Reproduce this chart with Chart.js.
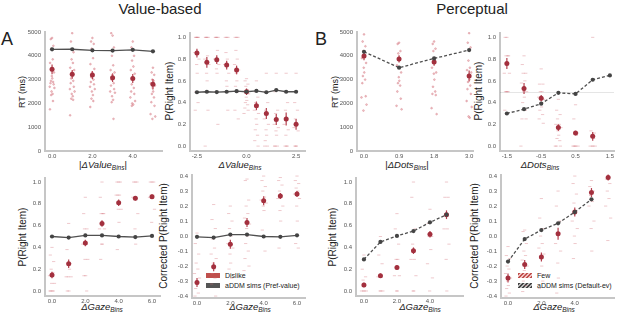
<!DOCTYPE html>
<html>
<head>
<meta charset="utf-8">
<script src="https://cdn.jsdelivr.net/npm/chart.js@4.4.0/dist/chart.umd.min.js"></script>
<style>
  body { margin: 0; width: 617px; height: 313px; background: #fff; position: relative; overflow: hidden;
         font-family: "Liberation Sans", Arial, sans-serif; color: #222; }
  canvas { position: absolute; }
  .tx { position: absolute; white-space: nowrap; line-height: 1; }
  .ttl { font-size: 15px; transform: translateX(-50%); }
  .let { font-size: 18px; }
  .yl { font-size: 10px; transform: translate(-50%, -50%) rotate(-90deg); }
  .yl.rt { font-size: 9px; }
  .xl { font-size: 9.5px; transform: translate(-50%, -50%); }
  .xl i { font-style: italic; }
  .xl sub { font-size: 6.5px; font-style: italic; vertical-align: -2px; }
  .lg { position: absolute; font-size: 7px; white-space: nowrap; line-height: 1; }
  .sw { display: inline-block; width: 14px; height: 5px; margin-right: 5px; vertical-align: 0px; }
</style>
</head>
<body>

<div class="tx ttl" style="left:160px;top:1px">Value-based</div>
<div class="tx ttl" style="left:472px;top:1px">Perceptual</div>
<div class="tx let" style="left:1px;top:30px">A</div>
<div class="tx let" style="left:315px;top:30px">B</div>

<div class="tx yl rt" style="left:22px;top:92px">RT (ms)</div>
<div class="tx yl" style="left:170px;top:91px">P(Right Item)</div>
<div class="tx yl rt" style="left:335px;top:92px">RT (ms)</div>
<div class="tx yl" style="left:479px;top:91px">P(Right Item)</div>
<div class="tx yl" style="left:23px;top:237px">P(Right Item)</div>
<div class="tx yl" style="left:164px;top:236px">Corrected P(Right Item)</div>
<div class="tx yl" style="left:333px;top:237px">P(Right Item)</div>
<div class="tx yl" style="left:475px;top:236px">Corrected P(Right Item)</div>

<div class="tx xl" style="left:103px;top:166px">|<i>ΔValue</i><sub>Bins</sub>|</div>
<div class="tx xl" style="left:240px;top:166px"><i>ΔValue</i><sub>Bins</sub></div>
<div class="tx xl" style="left:407px;top:166px">|<i>ΔDots</i><sub>Bins</sub>|</div>
<div class="tx xl" style="left:540px;top:166px"><i>ΔDots</i><sub>Bins</sub></div>
<div class="tx xl" style="left:102px;top:308px"><i>ΔGaze</i><sub>Bins</sub></div>
<div class="tx xl" style="left:250px;top:308px"><i>ΔGaze</i><sub>Bins</sub></div>
<div class="tx xl" style="left:420px;top:308px"><i>ΔGaze</i><sub>Bins</sub></div>
<div class="tx xl" style="left:554px;top:308px"><i>ΔGaze</i><sub>Bins</sub></div>

<div class="lg" style="left:206px;top:272px"><span class="sw" style="background:#c0504d"></span><span id="lgA1"></span></div>
<div class="lg" style="left:206px;top:282px"><span class="sw" style="background:#555"></span><span id="lgA2"></span></div>
<div class="lg" style="left:518px;top:272px"><span class="sw" style="background:repeating-linear-gradient(135deg,#c0504d 0 1.5px,#f2c4c4 1.5px 3px)"></span><span id="lgB1"></span></div>
<div class="lg" style="left:518px;top:282px"><span class="sw" style="background:repeating-linear-gradient(135deg,#444 0 1.5px,#bbb 1.5px 3px)"></span><span id="lgB2"></span></div>

<script>
// ---------- dados ----------
const legendValue = ["Dislike", "aDDM sims (Pref-value)"];
const legendPerc = ["Few", "aDDM sims (Default-ev)"];

// A - RT x |ΔValue|
const rtValBins = [0, 1, 2, 3, 4, 5];
const rtValMean = [3430, 3220, 3190, 3080, 3050, 2800];
const rtValErr = [200, 180, 170, 180, 190, 220];
const rtValSims = [4270, 4275, 4230, 4220, 4250, 4190];
const rtValSubj = [
  [4750, 4700, 4420, 4300, 3850, 3700, 3300, 3150, 3050, 2950, 2900, 2850, 2800, 2700, 2650, 2500, 2400, 2350, 2100, 1750],
  [4950, 4600, 4150, 3850, 3700, 3500, 3400, 3300, 3150, 3050, 2950, 2850, 2700, 2600, 2500, 2400, 2300, 2200, 2150, 1500],
  [4750, 4600, 4500, 4300, 3900, 3650, 3450, 3300, 3200, 3100, 3000, 2900, 2800, 2700, 2600, 2500, 2350, 2200, 2100, 1850],
  [4850, 4950, 4350, 4000, 3600, 3400, 3300, 3200, 3100, 3000, 2850, 2750, 2600, 2500, 2450, 2300, 2150, 2050, 1350],
  [4600, 4350, 4000, 3800, 3550, 3400, 3250, 3100, 3000, 2800, 2650, 2500, 2400, 2250, 2100, 2000, 1950, 1900],
  [3500, 3300, 3200, 3000, 2950, 2850, 2750, 2650, 2500, 2400, 2250, 2050, 1900, 1550, 1450, 1350]
];

// A - P(Right) x ΔValue
const pValBins = [-2.5, -2, -1.5, -1, -0.5, 0, 0.5, 1, 1.5, 2, 2.5];
const pValMean = [0.855, 0.77, 0.795, 0.745, 0.70, 0.50, 0.37, 0.30, 0.245, 0.25, 0.20];
const pValErr = [0.04, 0.05, 0.04, 0.04, 0.04, 0.03, 0.04, 0.05, 0.05, 0.06, 0.05];
const pValSims = [0.495, 0.50, 0.497, 0.50, 0.505, 0.50, 0.507, 0.495, 0.515, 0.50, 0.50];
const pValSubj = [
  [1, 1, 1, 1, 1, 0.86, 0.8, 0.75, 0.67, 0.5, 0.4, 0.33],
  [1, 1, 1, 1, 0.83, 0.8, 0.75, 0.67, 0.6, 0.5, 0.33, 0],
  [1, 1, 1, 1, 0.88, 0.8, 0.75, 0.71, 0.67, 0.5, 0.2],
  [1, 1, 1, 0.86, 0.8, 0.75, 0.67, 0.6, 0.55, 0.5, 0.33],
  [1, 1, 1, 0.88, 0.8, 0.75, 0.7, 0.67, 0.6, 0.55, 0.5, 0.33, 0.25],
  [0.62, 0.6, 0.57, 0.55, 0.52, 0.5, 0.48, 0.45, 0.42, 0.4, 0.38, 0.35, 0.33, 0.3],
  [0.6, 0.5, 0.45, 0.4, 0.38, 0.33, 0.3, 0.25, 0.2, 0.15, 0.1, 0.05, 0],
  [0.67, 0.5, 0.4, 0.33, 0.3, 0.25, 0.2, 0.15, 0.1, 0.05, 0, 0],
  [0.67, 0.5, 0.33, 0.3, 0.25, 0.2, 0.17, 0.14, 0.1, 0, 0, 0],
  [0.67, 0.5, 0.4, 0.33, 0.25, 0.2, 0.15, 0.1, 0, 0, 0],
  [0.67, 0.4, 0.33, 0.25, 0.2, 0.17, 0.14, 0, 0, 0]
];

// B - RT x |ΔDots|
const rtDotsBins = [0, 1, 2, 3];
const rtDotsLabels = ["0.0", "0.9", "1.8", "3.0"];
const rtDotsMean = [3990, 3870, 3740, 3150];
const rtDotsErr = [180, 150, 160, 230];
const rtDotsSims = [4170, 3500, 3890, 4240];
const rtDotsSubj = [
  [4900, 4600, 4400, 4200, 4050, 3900, 3700, 3500, 3300, 3150, 3000, 2850, 2300, 2250, 1950, 1700],
  [4550, 4500, 4200, 4100, 3900, 3600, 3300, 3100, 2950, 2850, 2750, 2500, 2200, 1900, 1750],
  [4600, 4500, 4300, 4200, 3900, 3500, 3300, 3250, 3000, 2700, 2500, 2400, 2350, 1800, 1550],
  [4950, 4550, 4350, 3800, 3500, 3400, 3300, 3200, 3000, 2900, 2750, 2600, 2400, 2100, 1850, 1450, 1400]
];

// B - P(Right) x ΔDots
const pDotsBins = [-1.5, -1, -0.5, 0, 0.5, 1];
const pDotsSimBins = [-1.5, -1, -0.5, 0, 0.5, 1, 1.5];
const pDotsMean = [0.76, 0.53, 0.44, 0.17, 0.12, 0.09];
const pDotsErr = [0.05, 0.05, 0.03, 0.03, 0.02, 0.04];
const pDotsSims = [0.30, 0.34, 0.39, 0.49, 0.48, 0.61, 0.65];
const pDotsChance = 0.5;
const pDotsSubj = [
  [1, 1, 0.83, 0.83, 0.83, 0.67, 0.67, 0.5, 0.5, 0.5, 0.5, 0.33],
  [0.83, 0.75, 0.67, 0.67, 0.6, 0.58, 0.5, 0.5, 0.45, 0.4, 0.33, 0.25, 0.25, 0],
  [0.71, 0.57, 0.57, 0.5, 0.5, 0.45, 0.43, 0.4, 0.36, 0.33, 0.29, 0.25, 0.21],
  [0.43, 0.33, 0.29, 0.25, 0.2, 0.2, 0.17, 0.14, 0.1, 0.07, 0.05, 0, 0, 0],
  [0.38, 0.25, 0.12, 0.12, 0.1, 0, 0, 0, 0, 0],
  [1.0, 0.14, 0.12, 0.1, 0.07, 0, 0, 0, 0]
];

// A - P(Right) x ΔGaze
const gazeValBins = [0, 1, 2, 3, 4, 5, 6];
const gazeValMean = [0.147, 0.25, 0.44, 0.62, 0.81, 0.85, 0.865];
const gazeValErr = [0.03, 0.04, 0.03, 0.03, 0.03, 0.02, 0.02];
const gazeValSims = [0.50, 0.49, 0.51, 0.51, 0.50, 0.495, 0.505];
const gazeValSubj = [
  [0.4, 0.33, 0.27, 0.2, 0.17, 0.14, 0.07, 0.07, 0.0, 0.0, 0.0, 0.0],
  [0.62, 0.38, 0.25, 0.25, 0.2, 0.13, 0.13, 0.13, 0.0, 0.0],
  [0.86, 0.71, 0.57, 0.57, 0.43, 0.43, 0.29, 0.29, 0.14, 0.14, 0.0],
  [1.0, 0.86, 0.71, 0.71, 0.71, 0.57, 0.57, 0.43, 0.43, 0.29],
  [1.0, 1.0, 1.0, 0.88, 0.88, 0.88, 0.75, 0.75, 0.63, 0.38],
  [1.0, 1.0, 1.0, 0.86, 0.86, 0.86, 0.71, 0.57, 0.43],
  [1.0, 1.0, 1.0, 0.88, 0.88, 0.86, 0.75, 0.63]
];

// A - Corrected P(Right) x ΔGaze
const corrValBins = [0, 1, 2, 3, 4, 5, 6];
const corrValMean = [-0.31, -0.205, -0.055, 0.09, 0.235, 0.267, 0.28];
const corrValErr = [0.03, 0.03, 0.03, 0.03, 0.03, 0.02, 0.02];
const corrValSims = [-0.005, -0.01, 0.01, 0.01, -0.003, -0.005, 0.005];
const corrValSubj = [
  [0.02, -0.05, -0.12, -0.18, -0.22, -0.25, -0.28, -0.3, -0.32, -0.35, -0.38, -0.4],
  [0.21, 0.11, 0.05, -0.02, -0.08, -0.12, -0.15, -0.18, -0.22, -0.25, -0.28, -0.32, -0.4],
  [0.2, 0.15, 0.1, 0.05, 0.0, -0.05, -0.08, -0.12, -0.18, -0.22, -0.28],
  [0.38, 0.37, 0.24, 0.2, 0.15, 0.12, 0.08, 0.05, 0.0, -0.05, -0.1, -0.15, -0.2, -0.23],
  [0.4, 0.37, 0.33, 0.3, 0.26, 0.24, 0.22, 0.2, 0.17, 0.04, -0.1],
  [0.39, 0.37, 0.34, 0.3, 0.27, 0.25, 0.2, 0.17, 0.1, -0.08],
  [0.4, 0.37, 0.35, 0.32, 0.3, 0.28, 0.25, 0.2, 0.1, -0.05, -0.08]
];

// B - P(Right) x ΔGaze
const gazeDotsBins = [0, 1, 2, 3, 4, 5];
const gazeDotsMean = [0.055, 0.14, 0.215, 0.37, 0.52, 0.70];
const gazeDotsErr = [0.02, 0.02, 0.02, 0.03, 0.03, 0.04];
const gazeDotsSims = [0.29, 0.45, 0.505, 0.55, 0.63, 0.70];
const gazeDotsSubj = [
  [0.33, 0.2, 0.13, 0.1, 0.05, 0.0, 0.0, 0.0, 0.0],
  [0.5, 0.33, 0.25, 0.14, 0.13, 0.13, 0.0, 0.0, 0.0],
  [0.71, 0.57, 0.43, 0.29, 0.29, 0.14, 0.14, 0.0, 0.0],
  [1.0, 0.86, 0.57, 0.43, 0.29, 0.29, 0.14, 0.0, 0.0],
  [0.75, 0.62, 0.5, 0.5, 0.38, 0.25, 0.12, 0.0],
  [1.0, 0.86, 0.86, 0.71, 0.57, 0.57, 0.43, 0.29, 0.0]
];

// B - Corrected P(Right) x ΔGaze
const corrDotsBins = [0, 1, 2, 3, 4, 5, 6];
const corrDotsSimBins = [0, 1, 2, 3, 4, 5];
const corrDotsMean = [-0.28, -0.19, -0.14, 0.015, 0.16, 0.29, 0.39];
const corrDotsErr = [0.03, 0.03, 0.03, 0.04, 0.03, 0.03, 0.02];
const corrDotsSims = [-0.17, -0.02, 0.04, 0.085, 0.16, 0.245];
const corrDotsSubj = [
  [-0.07, -0.13, -0.15, -0.2, -0.22, -0.25, -0.28, -0.3, -0.33, -0.35, -0.38, -0.4],
  [0.04, 0.03, -0.05, -0.1, -0.13, -0.16, -0.2, -0.23, -0.26, -0.3, -0.33, -0.37],
  [0.25, 0.12, 0.05, 0.0, -0.05, -0.08, -0.12, -0.15, -0.2, -0.25, -0.3, -0.35],
  [0.3, 0.2, 0.1, 0.08, 0.02, -0.05, -0.1, -0.18, -0.28, -0.38],
  [0.4, 0.35, 0.28, 0.22, 0.16, 0.1, 0.05, 0.0, -0.05, -0.15],
  [0.37, 0.33, 0.3, 0.27, 0.23, 0.2, 0.1, 0.05, -0.1],
  [0.4, 0.38, 0.35, 0.3, 0.25, 0.2, 0.12, -0.03]
];

// ticks
const rtTicks = [0, 1000, 2000, 3000, 4000, 5000];
const pTicks = [0, 0.2, 0.4, 0.6, 0.8, 1.0];
const corrTicks = [-0.4, -0.3, -0.2, -0.1, 0, 0.1, 0.2, 0.3, 0.4];
const valAbsTicks = [0, 2, 4];
const valDiffTicks = [-2.5, 0, 2.5];
const dotsDiffTicks = [-1.5, -0.5, 0.5, 1.5];
const gazeTicks6 = [0, 2, 4, 6];
const gazeTicks4 = [0, 2, 4];

// ---------- desenho ----------
const FONT = "'Liberation Sans', Arial, sans-serif";
const YW = 40, XH = 14, PT = 8, PR = 12;
const SUBJ_COLOR = "rgba(210,110,120,0.38)";
// deslocamento horizontal fixo dos pontos individuais (sem aleatório)
const JIT = [0, -0.5, 0.5, -0.25, 0.25, -0.75, 0.75, -0.1, 0.1, -0.4, 0.4, -0.6, 0.6, -0.9, 0.9, -0.2, 0.2, -0.35, 0.35, -0.8];

document.getElementById("lgA1").textContent = legendValue[0];
document.getElementById("lgA2").textContent = legendValue[1];
document.getElementById("lgB1").textContent = legendPerc[0];
document.getElementById("lgB2").textContent = legendPerc[1];

function xy(bins, vals) {
  return bins.map((b, i) => ({ x: b, y: vals[i] }));
}
function subjPoints(bins, subj, spread) {
  const pts = [];
  bins.forEach((b, i) => subj[i].forEach((v, k) => pts.push({ x: b + JIT[k % JIT.length] * spread, y: v })));
  return pts;
}

// barras de erro e linha de referência
const extrasPlugin = {
  id: "extras",
  beforeDatasetsDraw(chart) {
    const ctx = chart.ctx, ys = chart.scales.y, xs = chart.scales.x;
    const ref = chart.options.plugins.extras && chart.options.plugins.extras.refLine;
    ctx.save();
    if (ref !== undefined && ref !== null) {
      ctx.strokeStyle = "rgba(0,0,0,0.1)";
      ctx.lineWidth = 1;
      const py = Math.round(ys.getPixelForValue(ref)) + 0.5;
      ctx.beginPath(); ctx.moveTo(xs.left, py); ctx.lineTo(xs.right, py); ctx.stroke();
    }
    chart.data.datasets.forEach((ds) => {
      if (!ds.errors) return;
      ctx.strokeStyle = "#b4404e";
      ctx.lineWidth = 1.2;
      ds.data.forEach((p, i) => {
        const px = xs.getPixelForValue(p.x);
        ctx.beginPath();
        ctx.moveTo(px, ys.getPixelForValue(p.y - ds.errors[i]));
        ctx.lineTo(px, ys.getPixelForValue(p.y + ds.errors[i]));
        ctx.stroke();
      });
    });
    ctx.restore();
  }
};

function fixTicks(vals) {
  return (s) => { s.ticks = vals.map((v) => ({ value: v })); };
}

function makePanel(c) {
  const [L, T, R, B] = c.plot;
  const cv = document.createElement("canvas");
  cv.width = R - L + YW + PR;
  cv.height = B - T + PT + XH;
  cv.style.left = (L - YW) + "px";
  cv.style.top = (T - PT) + "px";
  document.body.appendChild(cv);

  const datasets = [
    {
      type: "line", data: xy(c.simBins || c.bins, c.sims),
      borderColor: "#505050", borderWidth: 1.3, borderDash: c.dashed ? [3, 2] : [],
      pointRadius: 2.1, pointBackgroundColor: "#444", pointBorderColor: "#444", pointBorderWidth: 0
    },
    {
      type: "scatter", data: xy(c.bins, c.mean), errors: c.err,
      pointRadius: 2.5, backgroundColor: "#a3303e", borderColor: "#a3303e", borderWidth: 0
    },
    {
      type: "scatter", data: subjPoints(c.bins, c.subj, c.spread),
      pointStyle: c.dots ? "circle" : "line", pointRadius: c.dots ? 0.9 : 1.6,
      borderWidth: 1, borderColor: SUBJ_COLOR, backgroundColor: SUBJ_COLOR
    }
  ];

  const tickFont = { size: 6, family: FONT };
  new Chart(cv, {
    data: { datasets },
    plugins: [extrasPlugin],
    options: {
      responsive: false, animation: false, events: [],
      layout: { padding: { top: PT, right: PR, left: 0, bottom: 0 } },
      plugins: { legend: { display: false }, tooltip: { enabled: false }, extras: { refLine: c.refLine } },
      scales: {
        x: {
          type: "linear", min: c.x[0], max: c.x[1],
          grid: { display: false, drawTicks: false },
          border: { color: "#c6c6c6", width: 2 },
          afterBuildTicks: fixTicks(c.xt),
          afterFit: (s) => { s.height = XH; },
          ticks: { font: tickFont, color: "#555", padding: 2, maxRotation: 0, autoSkip: false, callback: c.xfmt }
        },
        y: {
          type: "linear", min: c.y[0], max: c.y[1],
          grid: { display: false, drawTicks: false },
          border: { color: "#c6c6c6", width: 2 },
          afterBuildTicks: fixTicks(c.yt),
          afterFit: (s) => { s.width = YW; },
          ticks: { font: tickFont, color: "#555", padding: 4, autoSkip: false, callback: c.yfmt }
        }
      }
    }
  });
}

const f1 = (v) => Number(v).toFixed(1);
const f0 = (v) => String(v);

makePanel({ plot: [45, 32, 162, 151], x: [-0.35, 5.45], y: [0, 5000], xt: valAbsTicks, yt: rtTicks, xfmt: f1, yfmt: f0,
  bins: rtValBins, mean: rtValMean, err: rtValErr, sims: rtValSims, subj: rtValSubj, spread: 0.13, dots: true });
makePanel({ plot: [190, 33, 305, 151], x: [-2.85, 2.95], y: [-0.045, 1.04], xt: valDiffTicks, yt: pTicks, xfmt: f1, yfmt: f1,
  bins: pValBins, mean: pValMean, err: pValErr, sims: pValSims, subj: pValSubj, spread: 0.14 });
makePanel({ plot: [357, 32, 473, 151], x: [-0.2, 3.11], y: [0, 5000], xt: rtDotsBins, yt: rtTicks, xfmt: (v) => rtDotsLabels[v], yfmt: f0,
  bins: rtDotsBins, mean: rtDotsMean, err: rtDotsErr, sims: rtDotsSims, subj: rtDotsSubj, spread: 0.08, dots: true, dashed: true });
makePanel({ plot: [500, 33, 614, 151], x: [-1.7, 1.62], y: [-0.045, 1.04], xt: dotsDiffTicks, yt: pTicks, xfmt: f1, yfmt: f1,
  bins: pDotsBins, simBins: pDotsSimBins, mean: pDotsMean, err: pDotsErr, sims: pDotsSims, subj: pDotsSubj, spread: 0.1,
  dashed: true, refLine: pDotsChance });
makePanel({ plot: [45, 178, 160, 296], x: [-0.42, 6.48], y: [-0.046, 1.037], xt: gazeTicks6, yt: pTicks, xfmt: f1, yfmt: f1,
  bins: gazeValBins, mean: gazeValMean, err: gazeValErr, sims: gazeValSims, subj: gazeValSubj, spread: 0.2 });
makePanel({ plot: [192, 175, 305, 298], x: [-0.3, 6.48], y: [-0.413, 0.407], xt: gazeTicks6, yt: corrTicks, xfmt: f1, yfmt: f1,
  bins: corrValBins, mean: corrValMean, err: corrValErr, sims: corrValSims, subj: corrValSubj, spread: 0.2 });
makePanel({ plot: [356, 178, 463, 296], x: [-0.48, 6.0], y: [-0.046, 1.037], xt: gazeTicks4, yt: pTicks, xfmt: f1, yfmt: f1,
  bins: gazeDotsBins, mean: gazeDotsMean, err: gazeDotsErr, sims: gazeDotsSims, subj: gazeDotsSubj, spread: 0.2, dashed: true });
makePanel({ plot: [501, 175, 614, 298], x: [-0.42, 6.35], y: [-0.413, 0.407], xt: gazeTicks4, yt: corrTicks, xfmt: f1, yfmt: f1,
  bins: corrDotsBins, simBins: corrDotsSimBins, mean: corrDotsMean, err: corrDotsErr, sims: corrDotsSims, subj: corrDotsSubj,
  spread: 0.2, dashed: true });
</script>
</body>
</html>
